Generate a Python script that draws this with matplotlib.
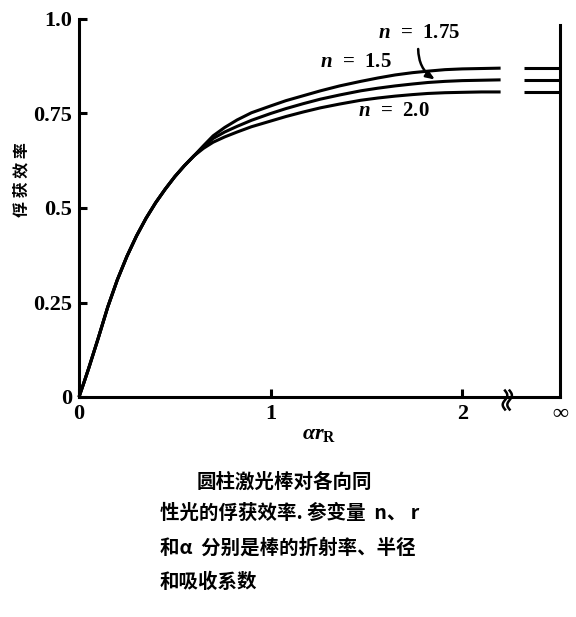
import numpy as np
import matplotlib
matplotlib.use("Agg")
import matplotlib.pyplot as plt

plt.rcParams["font.family"] = ["Liberation Serif", "DejaVu Serif"]
plt.rcParams["font.weight"] = "bold"
plt.rcParams["mathtext.fontset"] = "custom"
plt.rcParams["mathtext.rm"] = "Liberation Serif:bold"
plt.rcParams["mathtext.it"] = "Liberation Serif:italic:bold"
plt.rcParams["mathtext.bf"] = "Liberation Serif:bold"

cjk = ["Noto Sans CJK SC", "DejaVu Sans"]

# shared rising part of the three curves
x_common = [0, 0.025, 0.05, 0.075, 0.10, 0.15, 0.20, 0.25, 0.30, 0.35, 0.40, 0.45, 0.50, 0.55, 0.60]
y_common = [0, 0.037, 0.075, 0.115, 0.155, 0.238, 0.31, 0.372, 0.426, 0.473, 0.514, 0.55, 0.583, 0.612, 0.638]

# where the curves split up
x_tail = [0.65, 0.70, 0.76, 0.825, 0.90, 1.0, 1.08, 1.17, 1.26, 1.36, 1.47,
          1.56, 1.65, 1.74, 1.82, 1.91, 2.0, 2.1, 2.2]
y_n150 = [0.665, 0.691, 0.713, 0.733, 0.752, 0.770, 0.784, 0.797, 0.810, 0.823, 0.835,
          0.844, 0.852, 0.858, 0.862, 0.866, 0.868, 0.869, 0.870]
y_n175 = [0.662, 0.684, 0.701, 0.716, 0.732, 0.750, 0.763, 0.776, 0.788, 0.799, 0.810,
          0.817, 0.823, 0.828, 0.832, 0.835, 0.837, 0.838, 0.839]
y_n200 = [0.658, 0.674, 0.688, 0.701, 0.715, 0.730, 0.742, 0.754, 0.765, 0.775, 0.785,
          0.791, 0.796, 0.800, 0.803, 0.805, 0.806, 0.807, 0.807]

# values at alpha*r -> infinity
y_inf = [0.870, 0.839, 0.807]

yticks = [0, 0.25, 0.5, 0.75, 1.0]
ytick_labels = ["0", "0.25", "0.5", "0.75", "1.0"]
xticks = [0, 1, 2]
xtick_labels = ["0", "1", "2"]
x_inf = 2.51

caption = ["圆柱激光棒对各向同",
           "性光的俘获效率. 参变量  n、 r",
           "和α  分别是棒的折射率、半径",
           "和吸收系数"]

lw = 2.2
fig = plt.figure(figsize=(5.76, 6.17), dpi=100)
ax = fig.add_axes([79/576, 220/617, 481/576, 378/617])

for ys in [y_n150, y_n175, y_n200]:
    ax.plot(x_common + x_tail, y_common + ys, color="black", lw=lw,
            solid_capstyle="butt", solid_joinstyle="round", clip_on=False)
for v in y_inf:
    ax.plot([2.32, x_inf], [v, v], color="black", lw=lw, solid_capstyle="butt", clip_on=False)

ax.set_xlim(0, x_inf)
ax.set_ylim(0, 1.0)
for s in ["top", "right"]:
    ax.spines[s].set_visible(False)
for s in ["left", "bottom"]:
    ax.spines[s].set_linewidth(lw)
ax.plot([x_inf, x_inf], [0, 0.985], color="black", lw=lw, clip_on=False)

# axis break on the x axis
t = np.linspace(-1, 1, 30)
for dx in [-0.012, 0.012]:
    ax.plot(2.235 + dx + 0.012*np.sin(np.pi*t), 0.025*t - 0.008, color="black",
            lw=1.8, clip_on=False)

ax.set_yticks(yticks)
ax.set_yticklabels(ytick_labels)
ax.set_xticks(xticks + [x_inf])
ax.set_xticklabels(xtick_labels + ["∞"])
ax.tick_params(direction="in", length=6, width=lw, labelsize=16, pad=5)
ax.xaxis.get_ticklines()[-2].set_visible(False)

ax.set_xlabel(r"$\alpha r_{\mathrm{R}}$", fontsize=16)
ax.xaxis.set_label_coords(0.50, -0.075)
fig.text(21/576, 1 - 180/617, "俘 获 效 率", rotation=90, ha="center", va="center",
         family=cjk, weight="bold", fontsize=11.5)

ax.text(1.26, 0.886, r"$n$  =  1.5", fontsize=15, va="center")
ax.text(1.56, 0.963, r"$n$  =  1.75", fontsize=15, va="center")
ax.text(1.457, 0.757, r"$n$  =  2.0", fontsize=15, va="center")
ax.annotate("", xy=(1.87, 0.836), xytext=(1.77, 0.928),
            arrowprops=dict(arrowstyle="-|>,head_length=0.5,head_width=0.2",
                            color="black", lw=1.8,
                            connectionstyle="arc3,rad=0.3"))

fig.text(197/576, 1 - 482/617, caption[0], family=cjk, weight="bold", fontsize=14, va="center")
for i, yy in enumerate([513, 548, 582]):
    fig.text(160/576, 1 - yy/617, caption[i + 1], family=cjk, weight="bold",
             fontsize=14, va="center")

fig.savefig("out.png", dpi=100)
